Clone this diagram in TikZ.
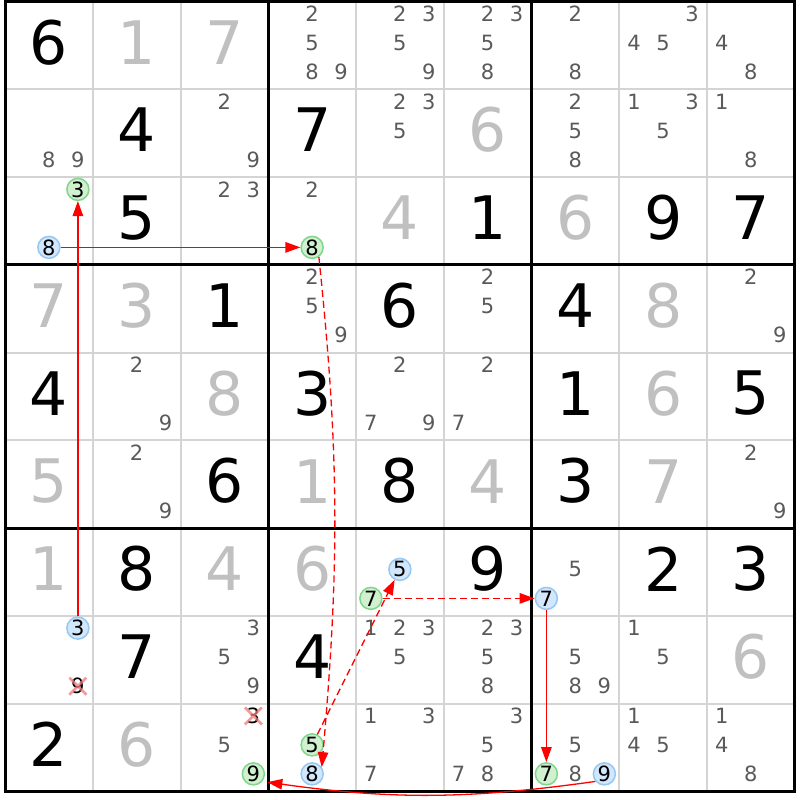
\documentclass[tikz,border=0pt]{standalone}
\usepackage{fontspec}
\setmainfont{DejaVu Sans}
\usetikzlibrary{arrows.meta}
\definecolor{solvedgray}{RGB}{192,192,192}
\definecolor{candgray}{RGB}{90,90,90}
\definecolor{thingrid}{RGB}{212,212,212}
\definecolor{gfill}{RGB}{208,240,208}
\definecolor{gline}{RGB}{130,214,140}
\definecolor{bfill}{RGB}{210,230,252}
\definecolor{bline}{RGB}{150,200,242}
\definecolor{xred}{RGB}{240,120,120}
\newcommand\bigfont{\fontsize{60}{60}\selectfont}
\newcommand\smallfont{\fontsize{21}{21}\selectfont}
\newcommand\bigd[4]{\node[#4] (d#1#2) at ({5+(#2-0.5)*87.75},{-(1.5+(#1-0.5)*87.75)+3}) {#3};}
\newcommand\cands[3]{\foreach \k in {#3}{\node[cand] (k#1#2\k) at ({5+(#2-0.5)*87.75+(mod(\k-1,3)-1)*29},{-(1.5+(#1-0.5)*87.75+(floor((\k-1)/3)-1)*29-2.5)}) {\k};}}
\newcommand\candc[4]{\node[#4] (k#1#2#3) at ({5+(#2-0.5)*87.75+(mod(#3-1,3)-1)*29},{-(1.5+(#1-0.5)*87.75+(floor((#3-1)/3)-1)*29-2.5)}) {#3};}
\newcommand\candx[1]{\draw[xmark] (#1.center) ++(-8.5,-8.5) -- ++(17,17) (#1.center) ++(-8.5,8.5) -- ++(17,-17);}
\begin{document}
\begin{tikzpicture}[x=1pt,y=1pt,
  given/.style={font=\bigfont, text=black, inner sep=0pt},
  solved/.style={font=\bigfont, text=solvedgray, inner sep=0pt},
  cand/.style={font=\smallfont, text=candgray, inner sep=0pt},
  xcand/.style={font=\smallfont, text=black, inner sep=0pt},
  gcirc/.style={circle, draw=gline, fill=gfill, line width=1.5pt, minimum size=22pt, inner sep=0pt, font=\smallfont, text=black},
  bcirc/.style={circle, draw=bline, fill=bfill, line width=1.5pt, minimum size=22pt, inner sep=0pt, font=\smallfont, text=black},
  xmark/.style={draw=xred, line width=2.5pt, opacity=0.75},
  thingridline/.style={draw=thingrid, line width=2pt},
  thickgridline/.style={draw=black, line width=3pt, line cap=rect},
  solidarrow/.style={draw=red, line width=1.3pt, -{Triangle[length=15pt,width=10.5pt]}},
  dasharrow/.style={solidarrow, dash pattern=on 7pt off 4pt}
]
\useasboundingbox (0,0) rectangle (800,-800);
\fill[white] (0,0) rectangle (800,-800);
% grid
\foreach \i in {1,2,4,5,7,8}{
  \draw[thingridline] ({5+\i*87.75},-1.5) -- ({5+\i*87.75},-791.25);
  \draw[thingridline] (5,{-(1.5+\i*87.75)}) -- (794.75,{-(1.5+\i*87.75)});
}
\foreach \i in {0,3,6,9}{
  \draw[thickgridline] ({5+\i*87.75},-1.5) -- ({5+\i*87.75},-791.25);
  \draw[thickgridline] (5,{-(1.5+\i*87.75)}) -- (794.75,{-(1.5+\i*87.75)});
}
% row 1
\bigd{1}{1}{6}{given} \bigd{1}{2}{1}{solved} \bigd{1}{3}{7}{solved}
\cands{1}{4}{2,5,8,9} \cands{1}{5}{2,3,5,9} \cands{1}{6}{2,3,5,8}
\cands{1}{7}{2,8} \cands{1}{8}{3,4,5} \cands{1}{9}{4,8}
% row 2
\cands{2}{1}{8,9} \bigd{2}{2}{4}{given} \cands{2}{3}{2,9}
\bigd{2}{4}{7}{given} \cands{2}{5}{2,3,5} \bigd{2}{6}{6}{solved}
\cands{2}{7}{2,5,8} \cands{2}{8}{1,3,5} \cands{2}{9}{1,8}
% row 3
\candc{3}{1}{3}{gcirc} \candc{3}{1}{8}{bcirc} \bigd{3}{2}{5}{given} \cands{3}{3}{2,3}
\cands{3}{4}{2} \candc{3}{4}{8}{gcirc} \bigd{3}{5}{4}{solved} \bigd{3}{6}{1}{given}
\bigd{3}{7}{6}{solved} \bigd{3}{8}{9}{given} \bigd{3}{9}{7}{given}
% row 4
\bigd{4}{1}{7}{solved} \bigd{4}{2}{3}{solved} \bigd{4}{3}{1}{given}
\cands{4}{4}{2,5,9} \bigd{4}{5}{6}{given} \cands{4}{6}{2,5}
\bigd{4}{7}{4}{given} \bigd{4}{8}{8}{solved} \cands{4}{9}{2,9}
% row 5
\bigd{5}{1}{4}{given} \cands{5}{2}{2,9} \bigd{5}{3}{8}{solved}
\bigd{5}{4}{3}{given} \cands{5}{5}{2,7,9} \cands{5}{6}{2,7}
\bigd{5}{7}{1}{given} \bigd{5}{8}{6}{solved} \bigd{5}{9}{5}{given}
% row 6
\bigd{6}{1}{5}{solved} \cands{6}{2}{2,9} \bigd{6}{3}{6}{given}
\bigd{6}{4}{1}{solved} \bigd{6}{5}{8}{given} \bigd{6}{6}{4}{solved}
\bigd{6}{7}{3}{given} \bigd{6}{8}{7}{solved} \cands{6}{9}{2,9}
% row 7
\bigd{7}{1}{1}{solved} \bigd{7}{2}{8}{given} \bigd{7}{3}{4}{solved}
\bigd{7}{4}{6}{solved} \candc{7}{5}{5}{bcirc} \candc{7}{5}{7}{gcirc} \bigd{7}{6}{9}{given}
\cands{7}{7}{5} \candc{7}{7}{7}{bcirc} \bigd{7}{8}{2}{given} \bigd{7}{9}{3}{given}
% row 8
\candc{8}{1}{3}{bcirc} \candc{8}{1}{9}{xcand} \candx{k819}
\bigd{8}{2}{7}{given} \cands{8}{3}{3,5,9}
\bigd{8}{4}{4}{given} \cands{8}{5}{1,2,3,5} \cands{8}{6}{2,3,5,8}
\cands{8}{7}{5,8,9} \cands{8}{8}{1,5} \bigd{8}{9}{6}{solved}
% row 9
\bigd{9}{1}{2}{given} \bigd{9}{2}{6}{solved}
\candc{9}{3}{3}{xcand} \candx{k933} \cands{9}{3}{5} \candc{9}{3}{9}{gcirc}
\candc{9}{4}{5}{gcirc} \candc{9}{4}{8}{bcirc} \cands{9}{5}{1,3,7} \cands{9}{6}{3,5,7,8}
\cands{9}{7}{5,8} \candc{9}{7}{7}{gcirc} \candc{9}{7}{9}{bcirc}
\cands{9}{8}{1,4,5} \cands{9}{9}{1,4,8}
% chain
\draw[solidarrow] (k318) -- (k348);
\draw[solidarrow] (k813) -- (k313);
\draw[dasharrow] (k348.-55) to[out=-84,in=85] (k948.35);
\draw[dasharrow] (k945) -- (k755);
\draw[dasharrow] (k757) -- (k777);
\draw[solidarrow] (k777) -- (k977);
\draw[solidarrow, shorten >=5pt] (k979.-140) to[out=-172,in=-8] (k939.-40);
\end{tikzpicture}
\end{document}
